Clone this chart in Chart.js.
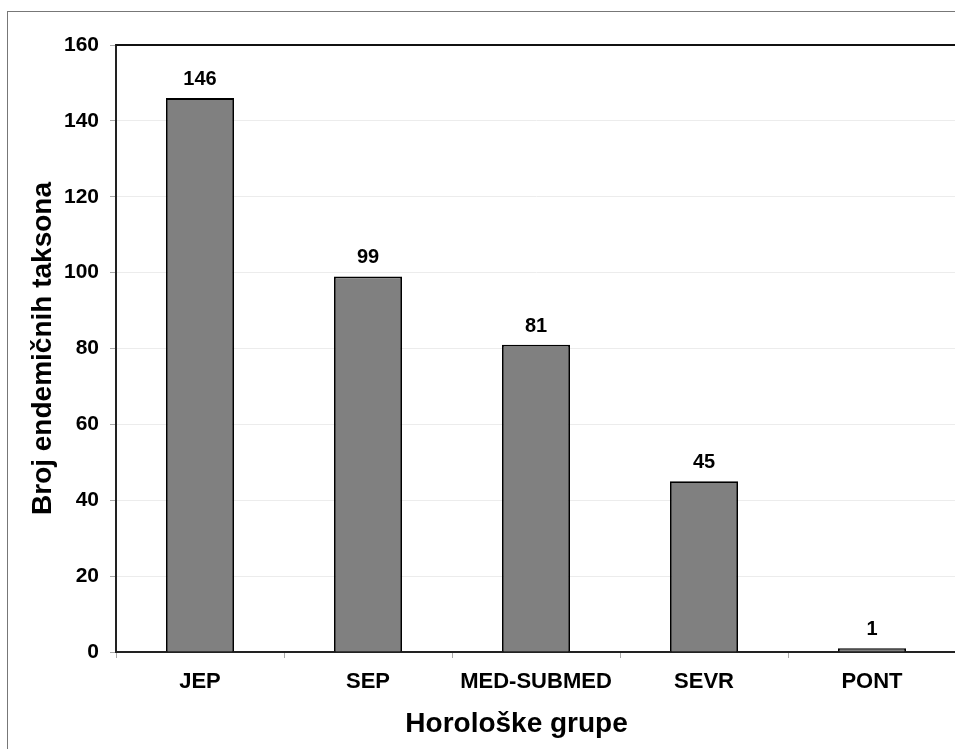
<html>
<head>
<meta charset="utf-8">
<script src="https://cdn.jsdelivr.net/npm/chart.js@4"></script>
<style>
    body { margin: 0; overflow: hidden; background: #fff; }
    .wrap { position: relative; width: 960px; height: 749px; }
    .frame { position: absolute; left: 7px; top: 11px; right: 0; bottom: 0; border-left: 1px solid #777; border-top: 1px solid #777; }
</style>
</head>
<body>
<div class="wrap">
    <div class="frame"></div>
    <canvas id="myChart"></canvas>
</div>
<script>
    var groups = ['JEP', 'SEP', 'MED-SUBMED', 'SEVR', 'PONT'];
    var counts = [146, 99, 81, 45, 1];
    var yTitle = 'Broj endemičnih taksona';
    var xTitle = 'Horološke grupe';

    var font = "'Liberation Sans', Arial, sans-serif";

    // numbers above the bars + top border of plot area
    var extras = {
        id: 'extras',
        afterDatasetsDraw: function(chart) {
            var ctx = chart.ctx;
            var area = chart.chartArea;
            ctx.save();
            ctx.strokeStyle = '#111';
            ctx.lineWidth = 2;
            ctx.beginPath();
            ctx.moveTo(area.left, area.top);
            ctx.lineTo(chart.width, area.top);
            ctx.stroke();

            ctx.fillStyle = '#000';
            ctx.font = 'bold 20px ' + font;
            ctx.textAlign = 'center';
            ctx.textBaseline = 'alphabetic';
            chart.getDatasetMeta(0).data.forEach(function(bar, i) {
                ctx.fillText(counts[i], bar.x, bar.y - 13);
            });
            ctx.restore();
        }
    };

    var ctx = document.getElementById('myChart').getContext('2d');
    var chart = new Chart(ctx, {
        type: 'bar',
        data: {
            labels: groups,
            datasets: [{
                data: counts,
                backgroundColor: '#808080',
                borderColor: '#000',
                borderWidth: 1.8,
                barPercentage: 0.405,
                categoryPercentage: 1
            }]
        },
        options: {
            responsive: true,
            maintainAspectRatio: false,
            animation: false,
            layout: { padding: { top: 45, right: 4, left: 0, bottom: 0 } },
            plugins: { legend: { display: false }, tooltip: { enabled: false } },
            scales: {
                x: {
                    afterFit: function(s) { s.height = 97; },
                    border: { color: '#222', width: 2 },
                    grid: { drawOnChartArea: false, tickColor: '#aaa', tickLength: 6 },
                    ticks: { color: '#000', padding: 11, font: { family: font, size: 22, weight: 'bold' } },
                    title: {
                        display: true,
                        // trailing spaces nudge the centred title a bit to the left, like the original
                        text: xTitle + '\u00a0\u00a0\u00a0\u00a0\u00a0',
                        color: '#000',
                        padding: { top: 0, bottom: 8 },
                        font: { family: font, size: 28, weight: 'bold' }
                    }
                },
                y: {
                    min: 0, max: 160,
                    afterFit: function(s) { s.width = 116; },
                    border: { color: '#222', width: 2 },
                    grid: { color: '#ececec', tickColor: '#aaa', tickLength: 6 },
                    ticks: { stepSize: 20, color: '#000', padding: 11, font: { family: font, size: 21, weight: 'bold' } },
                    title: {
                        display: true, text: yTitle, color: '#000',
                        padding: { top: 26, bottom: 0 },
                        font: { family: font, size: 28, weight: 'bold' }
                    }
                }
            }
        },
        plugins: [extras]
    });
</script>
</body>
</html>
